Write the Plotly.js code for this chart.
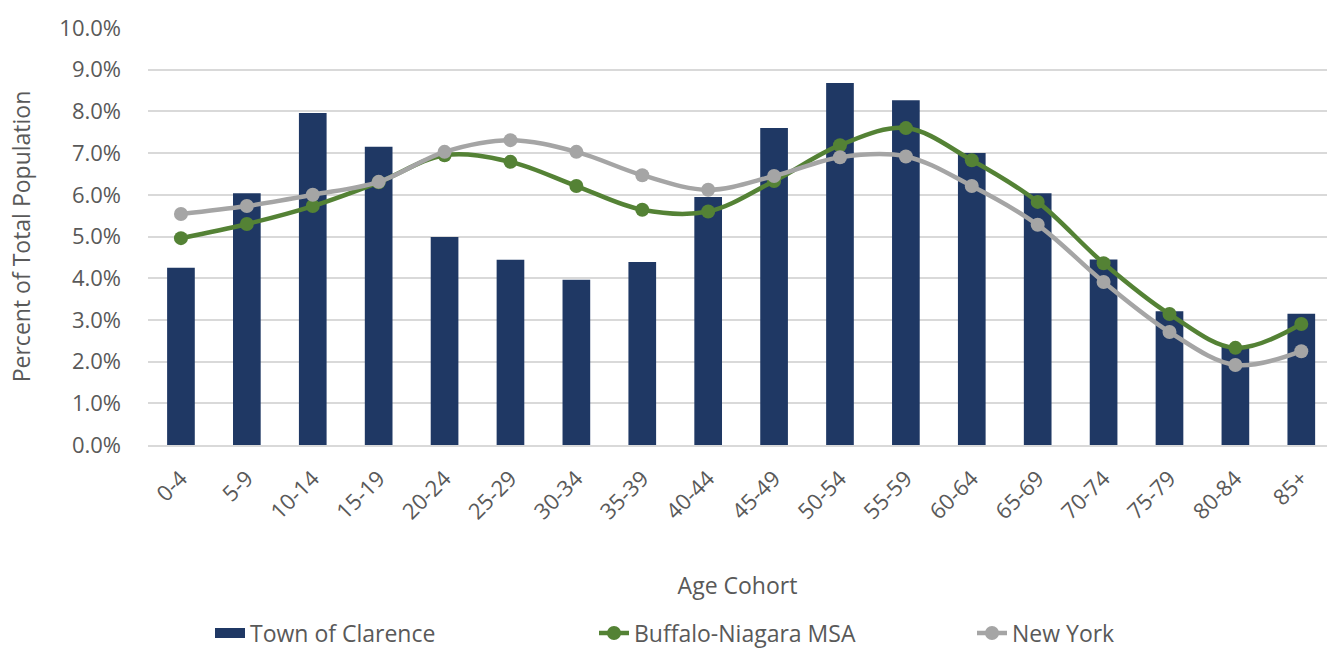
<!DOCTYPE html>
<html>
<head>
<meta charset="utf-8">
<script src="https://cdn.plot.ly/plotly-3.0.1.min.js"></script>
<style>html,body{margin:0;padding:0;background:#fff;}#chart{width:1327px;height:648px;}</style>
</head>
<body>
<div id="chart"></div>
<script>
const categories = ["0-4","5-9","10-14","15-19","20-24","25-29","30-34","35-39","40-44","45-49","50-54","55-59","60-64","65-69","70-74","75-79","80-84","85+"];
const clarence = [4.25, 6.04, 7.96, 7.15, 4.99, 4.44, 3.96, 4.39, 5.95, 7.60, 8.68, 8.27, 7.00, 6.04, 4.45, 3.21, 2.37, 3.15];
const buffaloMSA = [4.96, 5.30, 5.73, 6.30, 6.95, 6.79, 6.21, 5.64, 5.60, 6.33, 7.19, 7.60, 6.83, 5.83, 4.36, 3.14, 2.33, 2.90];
const newYork = [5.54, 5.73, 6.00, 6.31, 7.03, 7.31, 7.03, 6.47, 6.12, 6.45, 6.90, 6.92, 6.21, 5.28, 3.91, 2.71, 1.92, 2.25];
const yTicks = [0,1,2,3,4,5,6,7,8,9,10];
const yTickLabels = ["0.0%","1.0%","2.0%","3.0%","4.0%","5.0%","6.0%","7.0%","8.0%","9.0%","10.0%"];

const fontFam = "Open Sans, Noto Sans, sans-serif";
const legFont = {size:23, color:"#595959", family:fontFam};
const data = [
  {type:"bar", name:"Town of Clarence", x:categories, y:clarence, showlegend:false,
   marker:{color:"#1F3864"}},
  // legend swatch for the bars (wide rectangle like the original)
  {type:"scatter", mode:"lines", name:"Town of Clarence", x:[null], y:[null], legend:"legend",
   line:{color:"#1F3864", width:20}, hoverinfo:"skip"},
  {type:"scatter", mode:"lines+markers", name:"Buffalo-Niagara MSA", x:categories, y:buffaloMSA, legend:"legend2",
   line:{color:"#548235", width:4.5, shape:"spline", smoothing:1}, marker:{color:"#548235", size:14}},
  {type:"scatter", mode:"lines+markers", name:"New York", x:categories, y:newYork, legend:"legend3",
   line:{color:"#A5A5A5", width:4.5, shape:"spline", smoothing:1}, marker:{color:"#A5A5A5", size:14}}
];
const legBase = {orientation:"h", xref:"container", yref:"container", xanchor:"left", yanchor:"middle",
                 y:0.023, font:legFont, itemwidth:30, bgcolor:"rgba(0,0,0,0)"};
const layout = {
  width:1327, height:648,
  margin:{l:148, r:0, t:28, b:203},
  paper_bgcolor:"#fff", plot_bgcolor:"#fff",
  font:{family:fontFam, color:"#595959", size:22},
  bargap:0.58,
  showlegend:true,
  legend:Object.assign({}, legBase, {x:210/1327}),
  legend2:Object.assign({}, legBase, {x:594/1327}),
  legend3:Object.assign({}, legBase, {x:972/1327}),
  xaxis:{type:"category", range:[-0.5, 17.39], tickangle:-45, showgrid:false, automargin:false,
         tickfont:{size:22, color:"#595959"}, ticks:"", ticklabelstandoff:10, showline:true, linecolor:"#d9d9d9", linewidth:2,
         title:{text:"Age Cohort", font:{size:23, color:"#595959"}, standoff:54}},
  yaxis:{range:[0,10], tickvals:yTicks, ticktext:yTickLabels, showgrid:true, gridcolor:"#d9d9d9", gridwidth:2,
         zeroline:false, ticks:"", tickfont:{size:22, color:"#595959"}, ticklabelstandoff:26, automargin:false,
         title:{text:"Percent of Total Population", font:{size:23, color:"#595959"}, standoff:22}}
};
Plotly.newPlot("chart", data, layout, {displayModeBar:false, staticPlot:true});
</script>
</body>
</html>
